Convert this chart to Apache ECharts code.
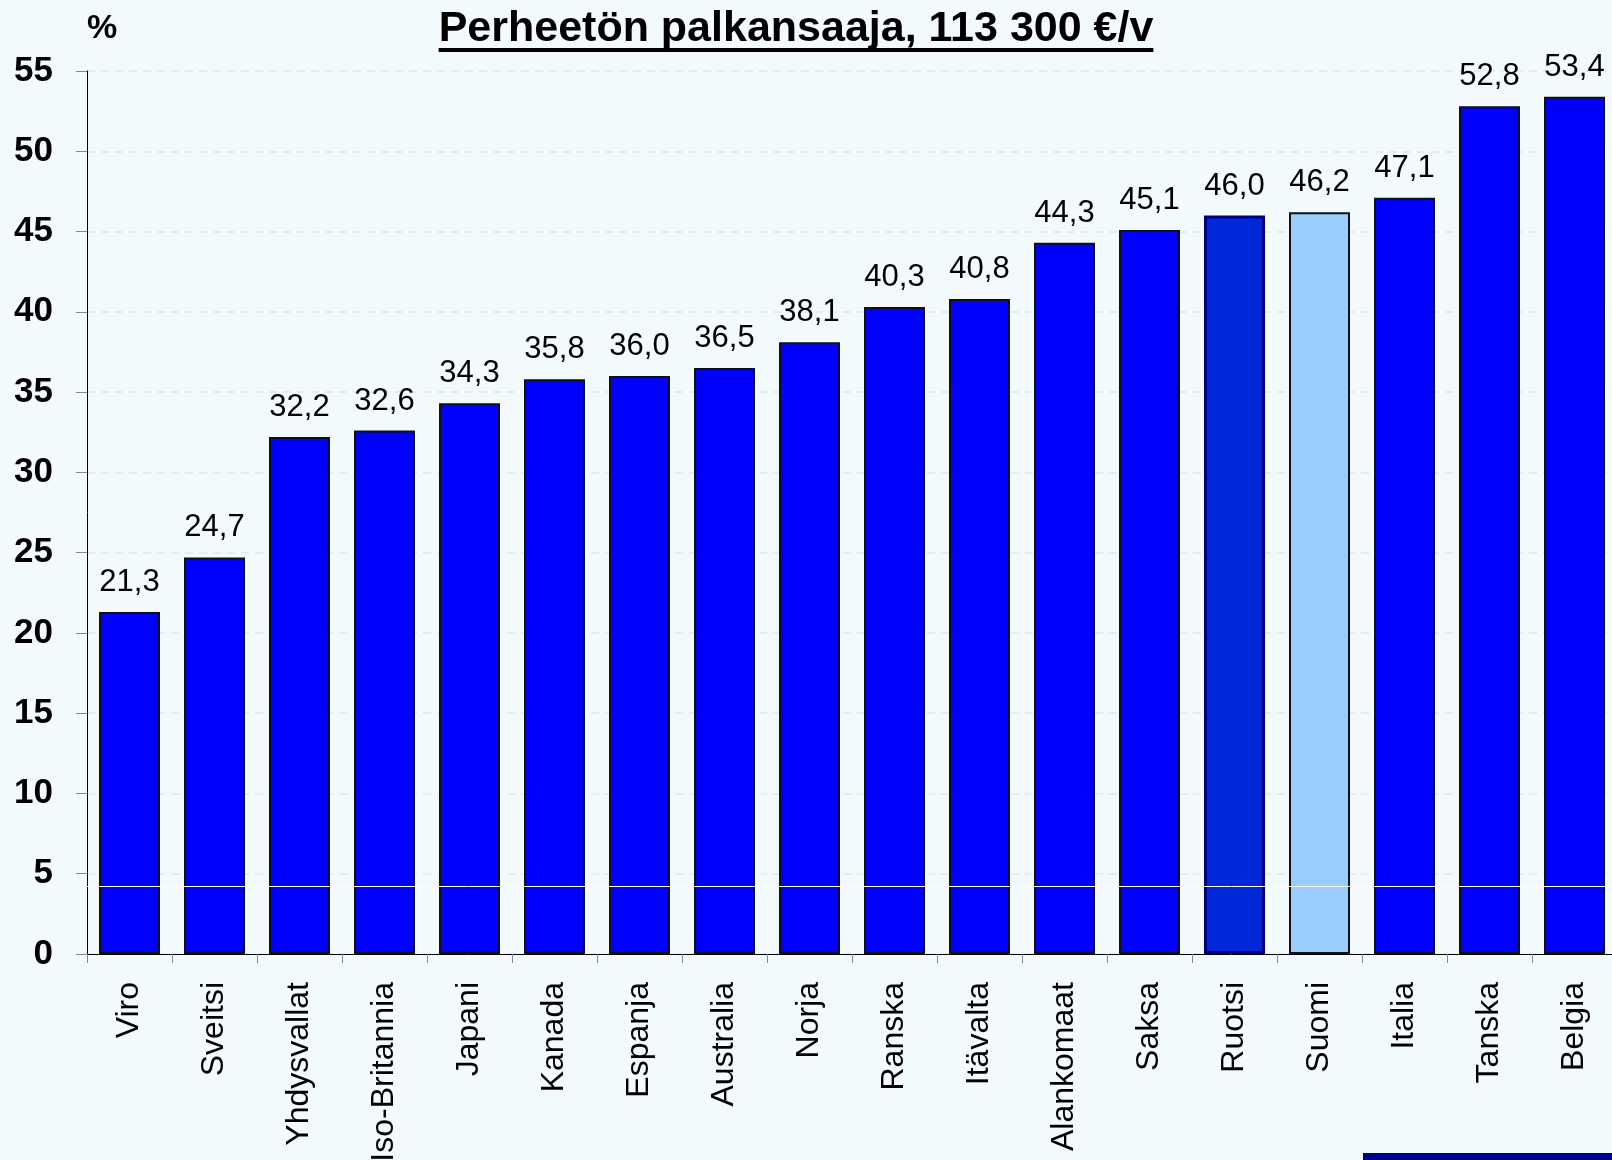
<!DOCTYPE html>
<html>
<head>
<meta charset="utf-8">
<script src="https://cdn.jsdelivr.net/npm/echarts@6/dist/echarts.min.js"></script>
<style>
html,body{margin:0;padding:0;background:#F3FAFD;}
#c{width:1612px;height:1160px;}
</style>
</head>
<body>
<div id="c"></div>
<script>
const categories = ["Viro","Sveitsi","Yhdysvallat","Iso-Britannia","Japani","Kanada","Espanja","Australia","Norja","Ranska","Itävalta","Alankomaat","Saksa","Ruotsi","Suomi","Italia","Tanska","Belgia"];
const values = [21.3,24.7,32.2,32.6,34.3,35.8,36.0,36.5,38.1,40.3,40.8,44.3,45.1,46.0,46.2,47.1,52.8,53.4];
const yTicks = [0,5,10,15,20,25,30,35,40,45,50,55];
const titleText = "Perheetön palkansaaja, 113 300 €/v";
const unitText = "%";

const FONT = '"Liberation Sans", Arial, sans-serif';

function barStyle(name){
  if(name === "Ruotsi") return {color:"#0028D8", borderColor:"#000080", borderWidth:3};
  if(name === "Suomi") return {color:"#99CCFF", borderColor:"#111111", borderWidth:2};
  return {color:"#0000FF", borderColor:"#111111", borderWidth:2};
}

const data = categories.map((c,i)=>({value:values[i], itemStyle:barStyle(c)}));

const cv = document.createElement('canvas').getContext('2d');
cv.font = 'bold 43px "Liberation Sans", Arial';
const tw = cv.measureText(titleText).width;
const tcx = 796;

const chart = echarts.init(document.getElementById('c'), null, {renderer:'canvas'});
chart.setOption({
  backgroundColor:'#F3FAFD',
  animation:false,
  grid:{left:87, top:71, width:1530, height:883, outerBoundsMode:'none', containLabel:false},
  xAxis:{
    type:'category', data:categories,
    axisLine:{lineStyle:{color:'#000', width:1}},
    axisTick:{show:true, length:9, lineStyle:{color:'#888'}},
    axisLabel:{rotate:90, fontSize:32, color:'#000', fontFamily:FONT, margin:28, interval:0}
  },
  yAxis:{
    type:'value', min:yTicks[0], max:yTicks[yTicks.length-1], interval:5,
    axisLine:{show:true, lineStyle:{color:'#000', width:1}},
    axisTick:{show:true, length:11, lineStyle:{color:'#888'}},
    axisLabel:{fontSize:35, fontWeight:'bold', color:'#000', fontFamily:FONT, margin:34},
    splitLine:{show:true, lineStyle:{color:'#D6ECEA', type:[8,6], width:1.5}}
  },
  series:[{
    type:'bar', data:data, barWidth:61,
    label:{show:true, position:'top', distance:14, fontSize:31, color:'#000', fontFamily:FONT,
      formatter:p=>p.value.toFixed(1).replace('.',',')},
    markLine:{silent:true, symbol:'none', label:{show:false},
      lineStyle:{color:'#FFFFFF', width:1, type:'solid'},
      data:[{yAxis:4.2}]}
  }],
  graphic:[
    {type:'text', left:87, top:12, style:{text:unitText, font:'bold 34px '+FONT, fill:'#000'}},
    {type:'text', x:tcx, y:29, style:{text:titleText, font:'bold 43px '+FONT, fill:'#000', textAlign:'center', textVerticalAlign:'middle'}},
    {type:'rect', shape:{x:tcx-tw/2, y:48, width:tw, height:4}, style:{fill:'#000'}},
    {type:'rect', shape:{x:1363, y:1153, width:249, height:7}, style:{fill:'#00008C'}}
  ]
});
</script>
</body>
</html>
